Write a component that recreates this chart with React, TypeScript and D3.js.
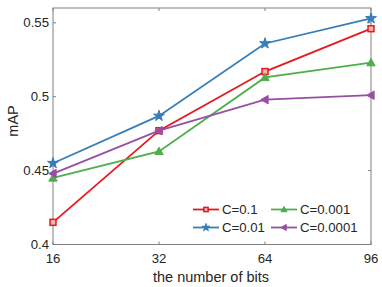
import React, { useEffect, useRef } from 'react';
import * as d3 from 'd3';

const bits = ['16', '32', '64', '96'];
const seriesNames = ['C=0.1', 'C=0.01', 'C=0.001', 'C=0.0001'];
const c01 = [0.415, 0.477, 0.517, 0.546];
const c001 = [0.455, 0.487, 0.536, 0.553];
const c0001 = [0.445, 0.463, 0.513, 0.523];
const c00001 = [0.448, 0.477, 0.498, 0.501];
const yTicks = [0.4, 0.45, 0.5, 0.55];
const colors = ['#e41a1c', '#377eb8', '#4daf4a', '#984ea3'];
const markers = ['square', 'star', 'up', 'left'];

const drawMarker = (g: any, kind: string, x: number, y: number, color: string, s: number) => {
  if (kind === 'square') {
    g.append('rect').attr('x', x - s * 0.85).attr('y', y - s * 0.85).attr('width', 1.7 * s).attr('height', 1.7 * s)
      .attr('fill', '#f7b4b4').attr('stroke', color).attr('stroke-width', 1.5);
  } else if (kind === 'star') {
    g.append('path').attr('transform', `translate(${x},${y})`)
      .attr('d', d3.symbol(d3.symbolStar, s * s * 3)()!)
      .attr('fill', color).attr('stroke', color).attr('stroke-width', 1);
  } else if (kind === 'up') {
    const h = s * 1.2;
    g.append('path').attr('d', `M${x},${y - h}L${x + h},${y + h * 0.75}L${x - h},${y + h * 0.75}Z`)
      .attr('fill', color).attr('stroke', color).attr('stroke-width', 1);
  } else {
    const h = s * 1.2;
    g.append('path').attr('d', `M${x - h},${y}L${x + h * 0.75},${y - h}L${x + h * 0.75},${y + h}Z`)
      .attr('fill', color).attr('stroke', color).attr('stroke-width', 1);
  }
};

const App: React.FC = () => {
  const svgRef = useRef<SVGSVGElement | null>(null);

  useEffect(() => {
    if (!svgRef.current) return;
    const width = 382;
    const height = 287;
    const left = 53, right = 371, top = 8, bottom = 244.5;
    const svg = d3.select(svgRef.current);
    svg.selectAll('*').remove();

    const x = d3.scalePoint<string>().domain(bits).range([left, right]);
    const y = d3.scaleLinear().domain([0.4, 0.56]).range([bottom, top]);
    const axisColor = '#808080';
    const textColor = '#262626';
    const font = 'Liberation Sans, Arial, sans-serif';

    svg.append('rect').attr('width', width).attr('height', height).attr('fill', 'white');

    // box
    svg.append('rect').attr('x', left).attr('y', top).attr('width', right - left).attr('height', bottom - top)
      .attr('fill', 'none').attr('stroke', axisColor).attr('stroke-width', 1);

    // ticks
    bits.forEach(b => {
      const xv = x(b)!;
      svg.append('line').attr('x1', xv).attr('x2', xv).attr('y1', bottom).attr('y2', bottom - 3).attr('stroke', axisColor);
      svg.append('line').attr('x1', xv).attr('x2', xv).attr('y1', top).attr('y2', top + 3).attr('stroke', axisColor);
      svg.append('text').attr('x', xv).attr('y', 263).attr('text-anchor', 'middle')
        .attr('font-family', font).attr('font-size', 13.2).attr('fill', textColor).text(b);
    });
    yTicks.forEach(t => {
      const yv = y(t);
      svg.append('line').attr('x1', left).attr('x2', left + 3).attr('y1', yv).attr('y2', yv).attr('stroke', axisColor);
      svg.append('line').attr('x1', right).attr('x2', right - 3).attr('y1', yv).attr('y2', yv).attr('stroke', axisColor);
      svg.append('text').attr('x', left - 4).attr('y', yv + 4.5).attr('text-anchor', 'end')
        .attr('font-family', font).attr('font-size', 13.2).attr('fill', textColor).text(String(t));
    });

    svg.append('text').attr('x', 211).attr('y', 282).attr('text-anchor', 'middle')
      .attr('font-family', font).attr('font-size', 14.5).attr('fill', textColor).text('the number of bits');
    svg.append('text').attr('transform', `translate(18,121) rotate(-90)`)
      .attr('text-anchor', 'middle').attr('font-family', font).attr('font-size', 14.5).attr('fill', textColor).text('mAP');

    const allSeries = [c01, c001, c0001, c00001];
    const line = d3.line<number>().x((_, i) => x(bits[i])!).y(d => y(d));
    allSeries.forEach((vals, k) => {
      const g = svg.append('g');
      g.append('path').attr('d', line(vals)!).attr('fill', 'none').attr('stroke', colors[k]).attr('stroke-width', 1.8);
      vals.forEach((v, i) => drawMarker(g, markers[k], x(bits[i])!, y(v), colors[k], 3.5));
    });

    // legend
    const legX = [193, 271];
    const legY = [209.5, 227.5];
    seriesNames.forEach((name, k) => {
      const col = k === 0 || k === 1 ? 0 : 1;
      const row = k === 0 || k === 2 ? 0 : 1;
      const lx = legX[col];
      const ly = legY[row];
      const g = svg.append('g');
      g.append('line').attr('x1', lx).attr('x2', lx + 26).attr('y1', ly).attr('y2', ly)
        .attr('stroke', colors[k]).attr('stroke-width', 1.8);
      drawMarker(g, markers[k], lx + 13, ly, colors[k], 2.5);
      g.append('text').attr('x', lx + 29).attr('y', ly + 4.5).attr('font-family', font).attr('font-size', 13.2)
        .attr('fill', textColor).text(name);
    });
  }, []);

  return <svg ref={svgRef} width={382} height={287} style={{ position: 'absolute', left: 0, top: 0 }} />;
};

export default App;
